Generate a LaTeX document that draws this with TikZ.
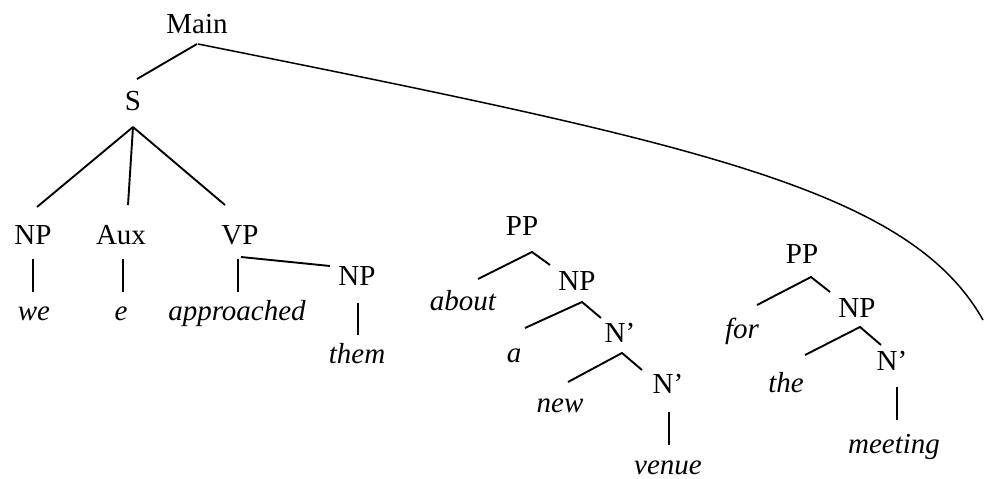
\documentclass[tikz,border=0pt]{standalone}
\usepackage{fontspec}
\setmainfont{Liberation Serif}
\usetikzlibrary{calc}
\tikzset{
  cat/.style={inner sep=0pt, anchor=base, font=\fontsize{29}{34}\selectfont},
  word/.style={cat, font=\fontsize{29}{34}\selectfont\itshape},
  branch/.style={line width=1.9pt},
  attach/.style={line width=1.5pt}
}
\begin{document}
\begin{tikzpicture}[x=1pt, y=-1pt]
\useasboundingbox (0,0) rectangle (986,479);

% categories
\node[cat] (Main) at (197,33) {Main};
\node[cat] (S)    at (133,110) {S};
\node[cat] (NPa)  at (33,244) {NP};
\node[cat] (Aux)  at (121,244) {Aux};
\node[cat] (VP)   at (240,244) {VP};
\node[cat] (NPb)  at (357,285) {NP};
\node[cat] (PPa)  at (522,235) {PP};
\node[cat] (NPc)  at (577,290) {NP};
\node[cat] (Na)   at (620,342) {N’};
\node[cat] (Nb)   at (668,393) {N’};
\node[cat] (PPb)  at (802,263) {PP};
\node[cat] (NPd)  at (857,317) {NP};
\node[cat] (Nc)   at (892,370) {N’};

% words
\node[word] (we)       at (34,320)  {we};
\node[word] (e)        at (121,320) {e};
\node[word] (appr)     at (237,320) {approached};
\node[word] (them)     at (357,363) {them};
\node[word] (about)    at (463,310) {about};
\node[word] (a)        at (514,362) {a};
\node[word] (new)      at (560,412) {new};
\node[word] (venue)    at (668,474) {venue};
\node[word] (for)      at (742,338) {for};
\node[word] (the)      at (786,392) {the};
\node[word] (meeting)  at (894,453) {meeting};

% main clause
\draw[branch] ($(Main.base)+(0,11)$) -- ($(S.base)+(4,-31)$);
\draw[branch] ($(S.base)+(0,17)$) -- ($(NPa.base)+(4,-37)$);
\draw[branch] ($(S.base)+(0,17)$) -- ($(Aux.base)+(7,-39)$);
\draw[branch] ($(S.base)+(0,17)$) -- ($(VP.base)+(-15,-39)$);
\draw[branch] ($(NPa.base)+(0,15)$) -- ($(we.base)+(-1,-28)$);
\draw[branch] ($(Aux.base)+(2,15)$) -- ($(e.base)+(2,-28)$);
\draw[branch] ($(VP.base)+(-2,15)$) -- ($(appr.base)+(1,-28)$);
\draw[branch] ($(VP.base)+(1,13)$) -- ($(NPb.base)+(-27,-19)$);
\draw[branch] ($(NPb.base)+(1,18)$) -- ($(them.base)+(1,-28)$);

% first PP
\draw[branch] ($(about.base)+(15,-31)$) -- ($(PPa.base)+(10,17)$) -- ($(NPc.base)+(-27,-25)$);
\draw[branch] ($(a.base)+(11,-34)$) -- ($(NPc.base)+(5,12)$) -- ($(Na.base)+(-19,-24)$);
\draw[branch] ($(new.base)+(8,-30)$) -- ($(Na.base)+(2,11)$) -- ($(Nb.base)+(-26,-23)$);
\draw[branch] ($(Nb.base)+(1,19)$) -- ($(venue.base)+(1,-29)$);

% second PP
\draw[branch] ($(for.base)+(15,-33)$) -- ($(PPb.base)+(9,14)$) -- ($(NPd.base)+(-27,-25)$);
\draw[branch] ($(the.base)+(19,-37)$) -- ($(NPd.base)+(3,10)$) -- ($(Nc.base)+(-11,-25)$);
\draw[branch] ($(Nc.base)+(5,17)$) -- ($(meeting.base)+(3,-33)$);

% attachment arc from Main
\coordinate (arcEnd) at (983,320);
\draw[attach] ($(Main.base)+(1,11)$) .. controls (698,144) and (909.5,189.5) .. (arcEnd);
\end{tikzpicture}
\end{document}
